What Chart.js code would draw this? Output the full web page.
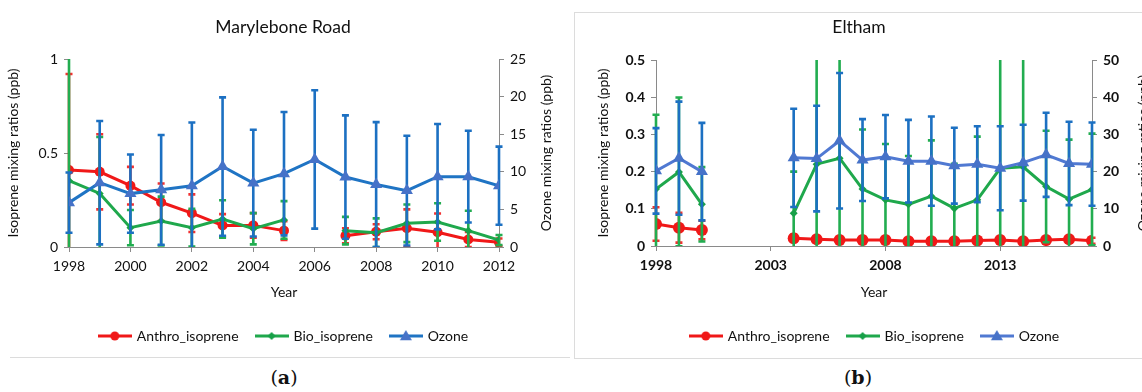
<!DOCTYPE html>
<html>
<head>
<meta charset="utf-8">
<script src="https://cdn.jsdelivr.net/npm/chart.js@4.4.1/dist/chart.umd.min.js"></script>
<style>
  body { margin: 0; background: #fff; font-family: Lato, sans-serif; }
  #page { position: relative; width: 1142px; height: 392px; overflow: hidden; background: #fff; }
  canvas { position: absolute; top: 0; }
  .title { position: absolute; top: 16px; font-size: 17.5px; color: #111; transform: translateX(-50%); white-space: nowrap; }
  .panel { position: absolute; top: 366px; font-family: "DejaVu Serif", serif; font-size: 19px; color: #111; transform: translateX(-50%); }
  .panel b { font-weight: bold; }
  #sep { position: absolute; left: 10px; top: 357px; width: 560px; height: 1px; background: #dcdcdc; }
  #boxB { position: absolute; left: 574px; top: 12px; width: 600px; height: 345px; border: 1px solid #dcdcdc; }
</style>
</head>
<body>
<div id="page">
  <div id="sep"></div>
  <div id="boxB"></div>
  <canvas id="chartA" width="568" height="360" style="left:0"></canvas>
  <canvas id="chartB" width="600" height="360" style="left:575px"></canvas>
  <div class="title" style="left:283px">Marylebone Road</div>
  <div class="title" style="left:859px">Eltham</div>
  <div class="panel" style="left:284px">(<b>a</b>)</div>
  <div class="panel" style="left:858px">(<b>b</b>)</div>
</div>
<script>
// ---- panel (a): Marylebone Road ----
const yearsA = [1998, 1999, 2000, 2001, 2002, 2003, 2004, 2005, 2006, 2007, 2008, 2009, 2010, 2011, 2012];
const anthroA = [0.41, 0.40, 0.326, 0.238, 0.18, 0.115, 0.115, 0.087, null, 0.06, 0.081, 0.10, 0.078, 0.04, 0.025];
const anthroErrA = [0.51, 0.20, 0.10, 0.10, 0.10, 0.06, 0.065, 0.05, null, 0.04, 0.04, 0.10, 0.10, 0.04, 0.02];
const bioA = [0.353, 0.285, 0.103, 0.138, 0.103, 0.149, 0.097, 0.144, null, 0.087, 0.076, 0.126, 0.133, 0.087, 0.037];
const bioErrA = [0.70, 0.30, 0.094, 0.13, 0.10, 0.10, 0.083, 0.10, null, 0.073, 0.076, 0.10, 0.10, 0.106, 0.027];
const ozoneA = [5.9, 8.55, 7.1, 7.6, 8.15, 10.7, 8.5, 9.75, 11.65, 9.3, 8.3, 7.5, 9.35, 9.35, 8.15];
const ozoneErrA = [4.0, 8.2, 5.2, 7.3, 8.4, 9.2, 7.1, 8.2, 9.2, 8.2, 8.3, 7.3, 7.0, 6.1, 5.2];
const xTicksA = [1998, 2000, 2002, 2004, 2006, 2008, 2010, 2012];
const leftTicksA = [0, 0.5, 1];
const rightTicksA = [0, 5, 10, 15, 20, 25];

// ---- panel (b): Eltham ----
const yearsB = [1998, 1999, 2000, 2001, 2002, 2003, 2004, 2005, 2006, 2007, 2008, 2009, 2010, 2011, 2012, 2013, 2014, 2015, 2016, 2017];
const anthroB = [0.059, 0.049, 0.043, null, null, null, 0.021, 0.018, 0.016, 0.016, 0.016, 0.013, 0.013, 0.013, 0.015, 0.016, 0.013, 0.016, 0.018, 0.014];
const anthroErrB = [0.045, 0.04, 0.025, null, null, null, 0.01, 0.008, 0.008, 0.008, 0.008, 0.008, 0.008, 0.008, 0.008, 0.008, 0.008, 0.008, 0.008, 0.008];
const bioB = [0.153, 0.199, 0.112, null, null, null, 0.088, 0.22, 0.236, 0.153, 0.124, 0.112, 0.134, 0.101, 0.124, 0.209, 0.213, 0.16, 0.126, 0.152];
const bioErrB = [0.2, 0.2, 0.1, null, null, null, 0.112, 0.35, 0.35, 0.16, 0.15, 0.13, 0.15, 0.12, 0.17, 0.4, 0.4, 0.15, 0.16, 0.15];
const ozoneB = [20.2, 23.6, 20.0, null, null, null, 23.7, 23.5, 28.3, 23.1, 24.0, 22.8, 22.8, 21.6, 22.0, 20.9, 22.4, 24.5, 22.2, 22.0];
const ozoneErrB = [11.5, 15.2, 13.1, null, null, null, 13.2, 14.2, 18.2, 11.0, 11.2, 11.1, 12.0, 10.2, 10.2, 11.3, 10.2, 11.3, 11.2, 11.2];
const xTicksB = [1998, 2003, 2008, 2013];
const leftTicksB = [0, 0.1, 0.2, 0.3, 0.4, 0.5];
const rightTicksB = [0, 10, 20, 30, 40, 50];

const seriesNames = ['Anthro_isoprene', 'Bio_isoprene', 'Ozone'];

// draws the +/- error bars for a dataset just before the dataset itself
const errorBars = {
  id: 'errorBars',
  beforeDatasetDraw(chart, args) {
    const ds = chart.data.datasets[args.index];
    if (!ds.errors) return;
    const yScale = chart.scales[args.meta.yAxisID];
    const area = chart.chartArea;
    const ctx = chart.ctx;
    ctx.save();
    ctx.beginPath();
    ctx.rect(area.left - 6, area.top, area.right - area.left + 12, area.bottom - area.top);
    ctx.clip();
    ctx.strokeStyle = ds.errorColor;
    ctx.lineWidth = 2.6;
    args.meta.data.forEach((pt, i) => {
      const v = ds.data[i].y, e = ds.errors[i];
      if (v == null || e == null) return;
      const yt = yScale.getPixelForValue(v + e);
      const yb = yScale.getPixelForValue(v - e);
      ctx.beginPath();
      ctx.moveTo(pt.x, yt); ctx.lineTo(pt.x, yb);
      ctx.moveTo(pt.x - 3.5, yt); ctx.lineTo(pt.x + 3.5, yt);
      ctx.moveTo(pt.x - 3.5, yb); ctx.lineTo(pt.x + 3.5, yb);
      ctx.stroke();
    });
    ctx.restore();
  }
};

// right hand axis title, reading bottom to top like the left one
const sideTitle = {
  id: 'sideTitle',
  afterDraw(chart, args, opts) {
    const s = chart.scales.y2, ctx = chart.ctx;
    ctx.save();
    ctx.translate(s.right - opts.offset, (chart.chartArea.top + chart.chartArea.bottom) / 2);
    ctx.rotate(-Math.PI / 2);
    ctx.font = opts.font;
    ctx.fillStyle = '#111';
    ctx.textAlign = 'center';
    ctx.textBaseline = 'middle';
    ctx.fillText(opts.text, 0, 0);
    ctx.restore();
  }
};

function legendIcon(lineColor, fill, style, r) {
  const c = document.createElement('canvas');
  c.width = 34; c.height = 16;
  const g = c.getContext('2d');
  g.strokeStyle = lineColor; g.lineWidth = 3;
  g.beginPath(); g.moveTo(0, 8); g.lineTo(34, 8); g.stroke();
  g.fillStyle = fill;
  g.beginPath();
  if (style === 'circle') g.arc(17, 8, r, 0, Math.PI * 2);
  if (style === 'rectRot') { g.moveTo(17, 8 - r); g.lineTo(17 + r, 8); g.lineTo(17, 8 + r); g.lineTo(17 - r, 8); }
  if (style === 'triangle') { g.moveTo(17, 8 - r); g.lineTo(17 + r, 8 + r * 0.7); g.lineTo(17 - r, 8 + r * 0.7); }
  g.closePath(); g.fill();
  return c;
}

function points(years, vals) {
  return years.map((x, i) => ({ x: x, y: vals[i] }));
}

function makeChart(id, p) {
  const red = '#f01818', green = '#1fa84c';
  const datasets = [
    { label: seriesNames[0], data: points(p.years, p.anthro), errors: p.anthroErr, errorColor: '#f23030',
      borderColor: red, backgroundColor: red, pointStyle: 'circle', pointRadius: p.redR, order: 3, yAxisID: 'y',
      icon: legendIcon(red, red, 'circle', 4.5) },
    { label: seriesNames[1], data: points(p.years, p.bio), errors: p.bioErr, errorColor: '#22ad50',
      borderColor: green, backgroundColor: '#17a048', pointStyle: 'rectRot', pointRadius: 4, order: 2, yAxisID: 'y',
      icon: legendIcon(green, '#17a048', 'rectRot', 4) },
    { label: seriesNames[2], data: points(p.years, p.ozone), errors: p.ozoneErr, errorColor: '#1c70c2',
      borderColor: p.blueLine, backgroundColor: '#4672c8', pointStyle: 'triangle', pointRadius: 7, order: 1, yAxisID: 'y2',
      icon: legendIcon(p.blueLine, '#4672c8', 'triangle', 6) }
  ];
  datasets.forEach(d => { d.borderWidth = 3; d.pointBorderWidth = 0; d.spanGaps = false; d.tension = 0; });

  const tickFont = { family: 'Lato', size: 14, weight: p.bold ? 'bold' : 'normal' };
  const axisColor = '#8a8a8a';
  const yAxis = (ticks, pos, width) => ({
    type: 'linear', position: pos, min: ticks[0], max: ticks[ticks.length - 1],
    afterBuildTicks: s => { s.ticks = ticks.map(v => ({ value: v })); },
    afterFit: s => { s.width = width; },
    border: { color: axisColor, width: 1 },
    grid: { drawOnChartArea: false, tickLength: 5, color: axisColor },
    ticks: { color: '#111', font: tickFont, padding: 6, callback: v => String(v) }
  });

  return new Chart(document.getElementById(id), {
    type: 'line',
    data: { datasets: datasets },
    plugins: [errorBars, sideTitle],
    options: {
      responsive: false,
      animation: false,
      layout: { padding: { top: p.top, bottom: 7, left: 0, right: 0 } },
      scales: {
        x: {
          type: 'linear', min: p.years[0], max: p.years[p.years.length - 1],
          afterBuildTicks: s => { s.ticks = p.xTicks.map(v => ({ value: v })); },
          afterFit: s => { s.height = p.xHeight; },
          border: { color: axisColor, width: 1 },
          grid: { drawOnChartArea: false, tickLength: 5, color: axisColor },
          ticks: { color: '#111', font: tickFont, padding: 6, maxRotation: 0, callback: v => String(v) },
          title: { display: true, text: 'Year', color: '#111', font: { family: 'Lato', size: 14 }, padding: { top: 0, bottom: 10 } }
        },
        y: Object.assign(yAxis(p.leftTicks, 'left', p.leftW), {
          title: { display: true, text: 'Isoprene mixing ratios (ppb)', color: '#111',
                   font: { family: 'Lato', size: 14 }, padding: { top: p.leftTitlePad, bottom: 0 } }
        }),
        y2: yAxis(p.rightTicks, 'right', p.rightW)
      },
      plugins: {
        legend: {
          position: 'bottom',
          labels: {
            usePointStyle: true, pointStyleWidth: 30, boxHeight: 14, padding: 18,
            color: '#111', font: { family: 'Lato', size: 14 },
            generateLabels: chart => chart.data.datasets.map((d, i) => ({
              text: d.label, pointStyle: d.icon, datasetIndex: i, hidden: false,
              fillStyle: d.borderColor, strokeStyle: d.borderColor, lineWidth: 0, fontColor: '#111'
            }))
          },
          onClick: () => {}
        },
        tooltip: { enabled: false },
        sideTitle: { text: 'Ozone mixing ratios (ppb)', offset: p.rightTitleOff, font: '14px Lato' }
      }
    }
  });
}

makeChart('chartA', {
  years: yearsA, anthro: anthroA, anthroErr: anthroErrA, bio: bioA, bioErr: bioErrA, ozone: ozoneA, ozoneErr: ozoneErrA,
  xTicks: xTicksA, leftTicks: leftTicksA, rightTicks: rightTicksA,
  top: 59, xHeight: 64, leftW: 69, rightW: 69, leftTitlePad: 5, rightTitleOff: 22,
  redR: 5, blueLine: '#1f74c4', bold: false
});

makeChart('chartB', {
  years: yearsB, anthro: anthroB, anthroErr: anthroErrB, bio: bioB, bioErr: bioErrB, ozone: ozoneB, ozoneErr: ozoneErrB,
  xTicks: xTicksB, leftTicks: leftTicksB, rightTicks: rightTicksB,
  top: 60, xHeight: 65, leftW: 81, rightW: 83, leftTitlePad: 20, rightTitleOff: 32,
  redR: 6, blueLine: '#5079d2', bold: true
});
</script>
</body>
</html>
